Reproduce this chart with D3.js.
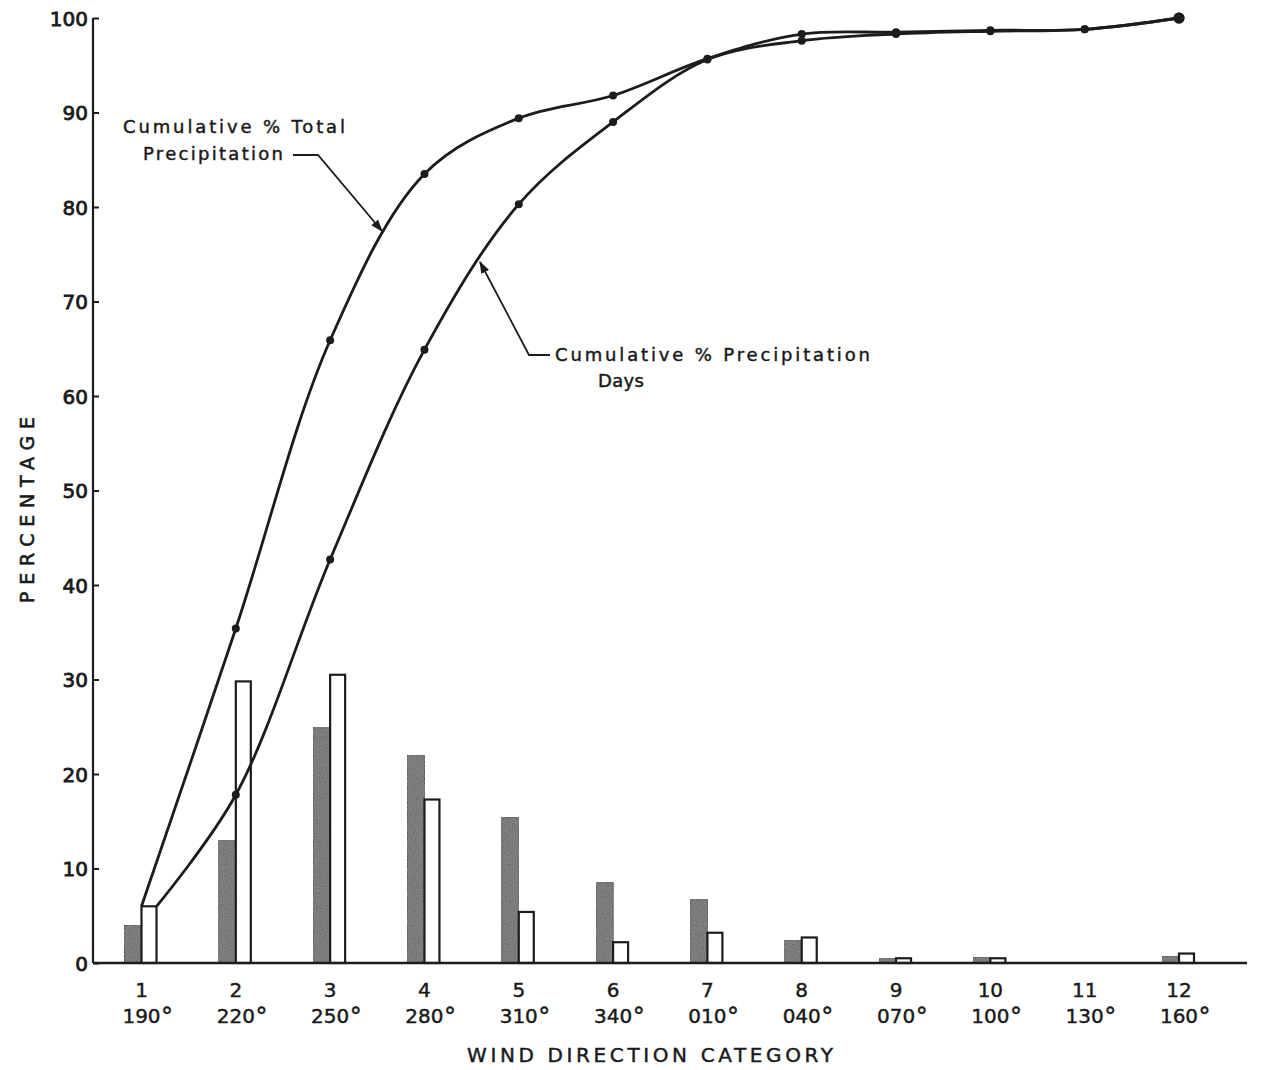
<!DOCTYPE html>
<html>
<head>
<meta charset="utf-8">
<script src="https://cdn.jsdelivr.net/npm/d3@7/dist/d3.min.js"></script>
<style>
  html, body { margin: 0; padding: 0; background: #fff; }
  svg { display: block; }
  text { font-family: "DejaVu Sans", "Open Sans", sans-serif; fill: #1a1a1a; stroke: #1a1a1a; stroke-width: 0.45px; }
</style>
</head>
<body>
<svg id="chart" width="1267" height="1070"></svg>
<script>
// Wind direction categories and their bearings
const categories = [1, 2, 3, 4, 5, 6, 7, 8, 9, 10, 11, 12];
const bearings = ["190", "220", "250", "280", "310", "340", "010", "040", "070", "100", "130", "160"];

// Percent of precipitation days (shaded bars) and of total precipitation (open bars)
const pctPrecipDays = [4.0, 13.0, 24.9, 22.0, 15.4, 8.5, 6.7, 2.4, 0.5, 0.6, 0, 0.7];
const pctTotalPrecip = [6.0, 29.8, 30.5, 17.3, 5.4, 2.2, 3.2, 2.7, 0.5, 0.5, 0, 1.0];

// Cumulative curves as plotted (both leave the top of the first open bar)
const cumTotalPrecip = [6.0, 35.4, 65.9, 83.5, 89.4, 91.8, 95.7, 98.3, 98.5, 98.7, 98.8, 100];
const cumPrecipDays = [6.0, 17.8, 42.7, 64.9, 80.3, 89.0, 95.6, 97.6, 98.3, 98.6, 98.8, 100];

const yTicks = [0, 10, 20, 30, 40, 50, 60, 70, 80, 90, 100];

const svg = d3.select("#chart");
const ink = "#1c1c1c";

const x = d3.scalePoint().domain(categories).range([141.5, 1179]);
const y = d3.scaleLinear().domain([0, 100]).range([963, 18]);
const axisX = 93;
const darkW = 17, openW = 15;

// grainy fill for the shaded bars
const defs = svg.append("defs");
const f = defs.append("filter").attr("id", "grain").attr("x", 0).attr("y", 0).attr("width", 1).attr("height", 1);
f.append("feTurbulence").attr("type", "fractalNoise").attr("baseFrequency", 0.9).attr("numOctaves", 2).attr("seed", 3).attr("result", "noise");
f.append("feColorMatrix").attr("in", "noise").attr("type", "matrix")
  .attr("values", "0 0 0 0 0.25  0 0 0 0 0.25  0 0 0 0 0.25  0 0 0 -1.6 1.35").attr("result", "speck");
f.append("feComposite").attr("in", "speck").attr("in2", "SourceGraphic").attr("operator", "in").attr("result", "clipped");
f.append("feMerge").selectAll("feMergeNode").data(["SourceGraphic", "clipped"]).join("feMergeNode").attr("in", d => d);

// arrowhead for leader lines
defs.append("marker").attr("id", "arrow").attr("viewBox", "0 0 10 10")
  .attr("refX", 9).attr("refY", 5).attr("markerWidth", 7).attr("markerHeight", 7)
  .attr("orient", "auto")
  .append("path").attr("d", "M0,1.5 L10,5 L0,8.5 Z").attr("fill", ink);

// Y axis
const yAxis = d3.axisRight(y).tickValues(yTicks).tickSize(6).tickFormat("");
const gy = svg.append("g").attr("transform", `translate(${axisX},0)`).call(yAxis);
gy.select(".domain").attr("stroke", ink).attr("stroke-width", 2.2).attr("d", `M0,${y(100)}V${y(0)}`);
gy.selectAll(".tick line").attr("stroke", ink).attr("stroke-width", 2);
gy.selectAll(".tick").append("text")
  .attr("x", -5).attr("dy", "0.36em").attr("text-anchor", "end")
  .style("font-size", "20px").style("stroke-width", "0.8px")
  .text(d => d);

svg.append("text")
  .attr("transform", "translate(27,510) rotate(-90)")
  .attr("text-anchor", "middle").attr("dy", "0.36em")
  .attr("textLength", 186).attr("lengthAdjust", "spacing")
  .style("font-size", "19px").style("stroke-width", "0.6px")
  .text("PERCENTAGE");

// Bars
const groups = svg.append("g").selectAll("g").data(categories).join("g");
groups.append("rect")
  .attr("x", (d) => x(d) - darkW)
  .attr("width", darkW)
  .attr("y", (d, i) => y(pctPrecipDays[i]))
  .attr("height", (d, i) => y(0) - y(pctPrecipDays[i]))
  .attr("fill", "#6a6a6a").attr("stroke", "#3a3a3a").attr("stroke-width", 1)
  .attr("filter", "url(#grain)");
groups.append("rect")
  .attr("x", (d) => x(d))
  .attr("width", openW)
  .attr("y", (d, i) => y(pctTotalPrecip[i]))
  .attr("height", (d, i) => y(0) - y(pctTotalPrecip[i]))
  .attr("fill", "#fff").attr("stroke", ink).attr("stroke-width", 2.2);

// X axis baseline
svg.append("line").attr("x1", axisX).attr("x2", 1247).attr("y1", y(0)).attr("y2", y(0))
  .attr("stroke", ink).attr("stroke-width", 2.4);

// X tick labels: category number and bearing
const xg = svg.append("g");
xg.selectAll("text.num").data(categories).join("text").attr("class", "num")
  .attr("x", d => x(d)).attr("y", 997).attr("text-anchor", "middle")
  .style("font-size", "20px")
  .text(d => d);
const bear = xg.selectAll("text.bear").data(categories).join("text").attr("class", "bear")
  .attr("x", d => x(d)).attr("y", 1023).attr("text-anchor", "middle")
  .style("font-size", "20px")
  .text((d, i) => bearings[i]);
// degree signs placed just after each bearing
bear.each(function (d) {
  const w = this.getComputedTextLength();
  xg.append("text").attr("x", x(d) + w / 2 + 0.5).attr("y", 1025)
    .style("font-size", "24px").text("°");
});

svg.append("text").attr("x", 650).attr("y", 1062).attr("text-anchor", "middle")
  .attr("textLength", 366).attr("lengthAdjust", "spacing")
  .style("font-size", "20px")
  .text("WIND DIRECTION CATEGORY");

// Cumulative curves
const line = d3.line().curve(d3.curveCatmullRom.alpha(0.5));
const upperPts = categories.map((c, i) => [x(c), y(cumTotalPrecip[i])]);
const lowerPts = categories.map((c, i) => [i === 0 ? x(c) + openW : x(c), y(cumPrecipDays[i])]);

svg.append("path").attr("d", line(upperPts)).attr("fill", "none").attr("stroke", ink).attr("stroke-width", 2.8);
svg.append("path").attr("d", line(lowerPts)).attr("fill", "none").attr("stroke", ink).attr("stroke-width", 2.8);

const dots = svg.append("g").attr("fill", ink);
[upperPts, lowerPts].forEach(pts => {
  dots.selectAll(null).data(pts.slice(1)).join("circle")
    .attr("cx", d => d[0]).attr("cy", d => d[1])
    .attr("r", (d, i) => i === pts.length - 2 ? 5.5 : 4);
});

// Curve annotations
const annStyle = s => s.style("font-size", "18px").attr("lengthAdjust", "spacing");
annStyle(svg.append("text").attr("x", 123).attr("y", 133).attr("textLength", 222)).text("Cumulative % Total");
annStyle(svg.append("text").attr("x", 143).attr("y", 160).attr("textLength", 140)).text("Precipitation");
svg.append("path").attr("d", "M293,155 L318,155 L382,231")
  .attr("fill", "none").attr("stroke", ink).attr("stroke-width", 1.8).attr("marker-end", "url(#arrow)");

annStyle(svg.append("text").attr("x", 555).attr("y", 361).attr("textLength", 315)).text("Cumulative % Precipitation");
annStyle(svg.append("text").attr("x", 598).attr("y", 387).attr("textLength", 46)).text("Days");
svg.append("path").attr("d", "M550,355 L529,355 L480,262")
  .attr("fill", "none").attr("stroke", ink).attr("stroke-width", 1.8).attr("marker-end", "url(#arrow)");
</script>
</body>
</html>
